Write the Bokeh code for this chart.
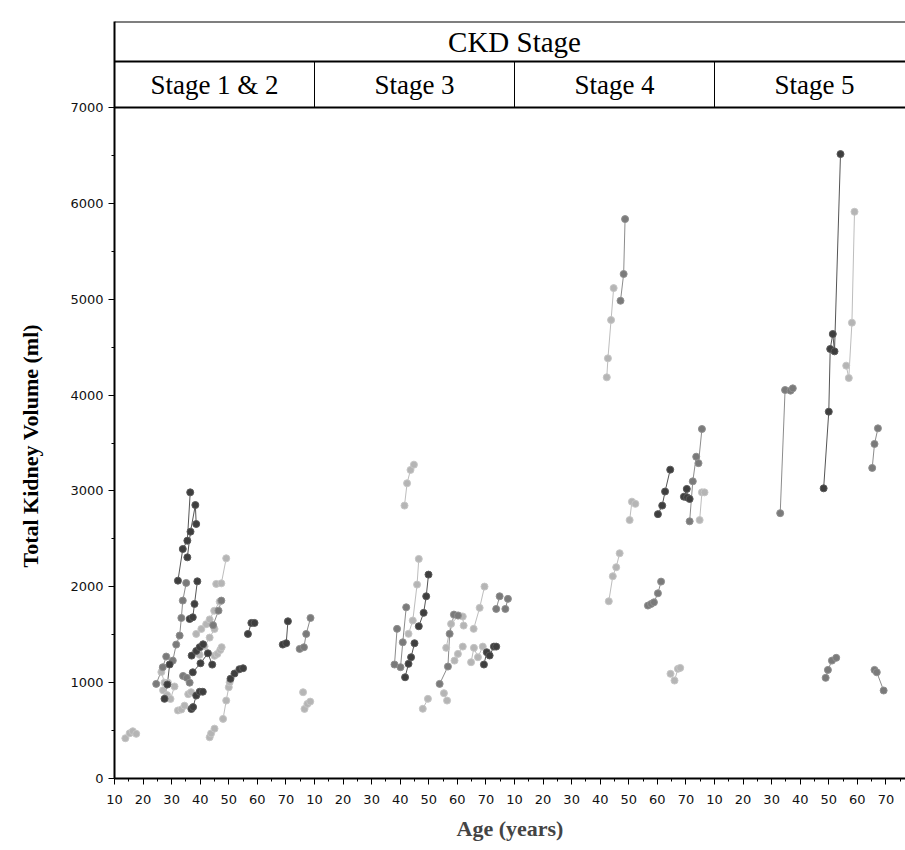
import math
from bokeh.plotting import figure
from bokeh.layouts import row
from bokeh.models import Range1d, FixedTicker, Span, Label, ColumnDataSource
from bokeh.embed import file_html
from bokeh.resources import INLINE

# ---------------- data ----------------
header_title = "CKD Stage"
panel_names = ["Stage 1 & 2", "Stage 3", "Stage 4", "Stage 5"]
y_title = "Total Kidney Volume  (ml)"
x_title = "Age (years)"
age_labels = [10, 20, 30, 40, 50, 60, 70]
age_minor = [15, 25, 35, 45, 55, 65, 75]
tkv_ticks = [0, 1000, 2000, 3000, 4000, 5000, 6000, 7000]
tkv_minor = [500, 1500, 2500, 3500, 4500, 5500, 6500]

# tone: 0 = dark, 1 = medium, 2 = light
stage12_age = [
    [13.8, 15.3, 16.4, 17.6], [32.2, 33.9, 35.5, 36.5], [35.5, 36.6, 38.3, 38.6],
    [30.4, 31.6, 32.8, 33.4, 33.9, 35.1], [36.3, 37.4, 38.0, 39.0], [24.6, 26.9, 28.1],
    [27.5, 28.5, 29.3], [26.4, 27.5, 28.7], [27.0, 28.4, 29.6, 31.0], [32.2, 33.4, 34.5],
    [34.0, 35.3, 36.3], [36.9, 37.5, 38.6, 39.8, 40.9], [37.0, 38.6, 39.8, 41.0],
    [37.4, 40.1, 42.7, 44.2], [38.6, 40.4, 42.1, 43.3, 44.9, 46.8], [39.8, 41.5, 43.3, 45.0],
    [45.0, 46.0, 47.0, 47.5], [45.6, 47.4, 49.1], [44.5, 46.4, 47.4], [43.3, 43.8, 45.0],
    [48.0, 49.1, 50.0, 50.3], [50.6, 52.0, 53.7, 55.0], [56.7, 57.9, 59.0],
    [68.9, 70.1, 70.7], [74.8, 76.3, 77.1, 78.6], [76.0], [76.5, 77.5, 78.5], [35.8, 36.8],
]
stage12_tkv = [
    [420, 472, 493, 466], [2064, 2394, 2481, 2985], [2307, 2575, 2853, 2655],
    [1230, 1397, 1491, 1675, 1856, 2040], [1664, 1682, 1821, 2057], [987, 1161, 1272],
    [831, 980, 1190], [1110, 1000, 1000], [920, 870, 830, 960], [710, 720, 760],
    [1070, 1050, 1000], [725, 745, 865, 905, 905], [1282, 1330, 1370, 1400],
    [1108, 1202, 1306, 1188], [1508, 1560, 1610, 1660, 1750, 1845], [1290, 1380, 1470, 1560],
    [1280, 1300, 1340, 1370], [2030, 2036, 2297], [1600, 1751, 1856], [430, 470, 520],
    [622, 813, 952, 1004], [1040, 1095, 1140, 1150], [1508, 1623, 1623],
    [1397, 1411, 1640], [1352, 1369, 1508, 1675], [900], [726, 778, 802], [880, 900],
]
stage12_tone = [2, 0, 0, 1, 0, 1, 0, 2, 2, 2, 1, 0, 0, 0, 2, 2, 2, 2, 1, 2, 2, 0, 0, 0, 1, 2, 2, 2]

stage3_age = [
    [41.5, 42.4, 43.6, 44.8], [42.9, 44.4, 45.9, 46.5], [46.5, 48.2, 49.1, 49.9],
    [38.0, 38.9], [40.1, 40.9, 42.1], [41.7, 42.9, 43.8, 45.0], [47.9, 49.7],
    [53.8, 56.7, 57.3, 58.8, 60.2], [56.1, 57.8, 60.5, 61.9, 62.2], [55.3, 56.4],
    [59.0, 60.2, 61.9], [64.8, 65.8, 67.2, 68.9], [65.7, 67.8, 69.5],
    [69.3, 70.3, 71.3, 72.8, 73.6], [73.6, 74.8], [76.8, 77.7],
]
stage3_tkv = [
    [2847, 3080, 3219, 3274], [1509, 1648, 2023, 2291], [1588, 1728, 1901, 2127],
    [1189, 1561], [1161, 1421, 1786], [1056, 1196, 1265, 1411], [727, 831],
    [987, 1168, 1509, 1710, 1700], [1363, 1613, 1700, 1690, 1595], [890, 813],
    [1230, 1300, 1376], [1213, 1363, 1265, 1376], [1561, 1780, 2002],
    [1189, 1317, 1283, 1376, 1376], [1769, 1901], [1769, 1874],
]
stage3_tone = [2, 2, 0, 1, 1, 0, 2, 1, 2, 2, 2, 2, 2, 0, 1, 1]

stage4_age = [
    [47.1, 48.2, 48.7], [42.3, 42.7, 43.8, 44.7], [71.3, 72.4, 73.6, 74.4, 75.6],
    [69.3, 70.3, 70.4, 71.3], [74.8, 75.6, 76.5], [60.2, 61.7, 62.7, 64.5],
    [50.3, 51.1, 52.3], [43.0, 44.4, 45.6, 46.8], [56.7, 57.8, 58.8, 60.2, 61.3],
    [64.6, 66.0, 67.2, 68.0],
]
stage4_tkv = [
    [4984, 5263, 5836], [4185, 4383, 4783, 5116], [2683, 3100, 3357, 3290, 3646],
    [2940, 3021, 2933, 2916], [2696, 2985, 2985], [2758, 2847, 2994, 3222],
    [2696, 2888, 2865], [1849, 2110, 2204, 2350], [1804, 1821, 1838, 1932, 2054],
    [1092, 1022, 1144, 1154],
]
stage4_tone = [1, 2, 1, 0, 2, 0, 2, 2, 1, 2]

stage5_age = [
    [48.2, 50.0, 50.5, 51.4, 52.0, 54.1], [56.1, 57.0, 58.1, 59.0],
    [33.0, 34.7, 36.6, 37.4], [65.2, 66.0, 67.2], [48.9, 49.7, 51.1, 52.6],
    [66.0, 66.8, 69.2],
]
stage5_tkv = [
    [3027, 3827, 4481, 4637, 4456, 6514], [4307, 4178, 4755, 5912],
    [2768, 4053, 4046, 4070], [3240, 3490, 3653], [1050, 1133, 1230, 1259],
    [1133, 1108, 918],
]
stage5_tone = [0, 2, 1, 1, 1, 1]

stages = [
    (stage12_age, stage12_tkv, stage12_tone),
    (stage3_age, stage3_tkv, stage3_tone),
    (stage4_age, stage4_tkv, stage4_tone),
    (stage5_age, stage5_tkv, stage5_tone),
]

# ---------------- layout ----------------
W, H = 905, 850
TW = 52                      # strip holding the vertical axis title
B_LEFT, B_TOP, B_BOTTOM = 114, 21, 72
AGE0, AGE1 = 10, 80
SPAN = AGE1 - AGE0
PANEL_PX = 200.0
frame_w = W - B_LEFT
frame_h = H - B_TOP - B_BOTTOM
data_px = 671.0
ymax_data = 7000
y_top = ymax_data * frame_h / data_px
stage_row_top = ymax_data + 46 * ymax_data / data_px
x_end = frame_w * SPAN / PANEL_PX

fill_cols = ["#3e3e3e", "#7a7a7a", "#b5b5b5"]
edge_cols = ["#5a5a5a", "#909090", "#c6c6c6"]
line_cols = ["#555555", "#8c8c8c", "#bdbdbd"]

yr = Range1d(0, y_top)

# narrow strip with the y-axis title
t = figure(width=TW, height=H, x_range=Range1d(0, TW), y_range=yr,
           output_backend="svg", toolbar_location=None,
           x_axis_location=None, y_axis_location=None,
           min_border_left=0, min_border_right=0, min_border_top=B_TOP,
           min_border_bottom=B_BOTTOM)
t.outline_line_color = None
t.xgrid.visible = False
t.ygrid.visible = False
t.add_layout(Label(x=30, y=ymax_data / 2, text=y_title, angle=math.pi / 2,
                   text_align="center", text_baseline="middle",
                   text_font="Liberation Serif", text_font_style="bold",
                   text_font_size="22px", text_color="black"))

p = figure(width=W - TW, height=H, x_range=Range1d(0, x_end), y_range=yr,
           output_backend="svg", toolbar_location=None,
           min_border_left=B_LEFT - TW, min_border_right=0, min_border_top=B_TOP,
           min_border_bottom=B_BOTTOM)
p.outline_line_color = None
p.xgrid.visible = False
p.ygrid.visible = False

xs, ys, lc = [], [], []
px, py, pf, pe = [], [], [], []
for k, (ages, tkvs, tones) in enumerate(stages):
    order = sorted(range(len(tones)), key=lambda i: -tones[i])
    for i in order:
        xx = [k * SPAN + a - AGE0 for a in ages[i]]
        xs.append(xx)
        ys.append(list(tkvs[i]))
        lc.append(line_cols[tones[i]])
        px.extend(xx)
        py.extend(tkvs[i])
        pf.extend([fill_cols[tones[i]]] * len(xx))
        pe.extend([edge_cols[tones[i]]] * len(xx))

p.multi_line(xs=xs, ys=ys, line_color=lc, line_width=1)
pts = ColumnDataSource(dict(x=px, y=py, f=pf, e=pe))
p.scatter("x", "y", source=pts, size=7, fill_color="f", line_color="e", line_width=1)

# axes
major = [k * SPAN + a - AGE0 for k in range(4) for a in age_labels]
minor = [k * SPAN + a - AGE0 for k in range(4) for a in age_minor]
p.xaxis.ticker = FixedTicker(ticks=major, minor_ticks=minor)
p.xaxis.major_label_overrides = {k * SPAN + a - AGE0: str(a) for k in range(4) for a in age_labels}
p.yaxis.ticker = FixedTicker(ticks=tkv_ticks, minor_ticks=tkv_minor)

for ax in (p.xaxis[0], p.yaxis[0]):
    ax.axis_line_width = 2
    ax.axis_line_color = "black"
    ax.major_tick_out = 6
    ax.major_tick_in = 0
    ax.minor_tick_out = 3
    ax.minor_tick_in = 0
    ax.major_tick_line_color = "black"
    ax.minor_tick_line_color = "black"
    ax.major_label_text_font = "DejaVu Sans"
    ax.major_label_text_font_size = "13px"
    ax.major_label_text_color = "#111111"

p.yaxis.major_label_standoff = 5
p.xaxis.major_label_standoff = 10
p.xaxis.axis_label = x_title
p.xaxis.axis_label_text_font = "Liberation Serif"
p.xaxis.axis_label_text_font_style = "bold"
p.xaxis.axis_label_text_font_size = "22px"
p.xaxis.axis_label_standoff = 9

# header (CKD Stage / Stage panels)
for loc in (ymax_data, stage_row_top, y_top):
    p.add_layout(Span(location=loc, dimension="width", line_color="black", line_width=2))
p.segment(x0=[k * SPAN for k in range(1, 4)], y0=[ymax_data] * 3,
          x1=[k * SPAN for k in range(1, 4)], y1=[stage_row_top] * 3,
          line_color="black", line_width=1)
p.add_layout(Label(x=2 * SPAN, y=(stage_row_top + y_top) / 2, text=header_title,
                   text_align="center", text_baseline="middle",
                   text_font="Liberation Serif", text_font_size="29px", text_color="black"))
for k, name in enumerate(panel_names):
    p.add_layout(Label(x=k * SPAN + SPAN / 2, y=(ymax_data + stage_row_top) / 2, text=name,
                       text_align="center", text_baseline="middle",
                       text_font="Liberation Serif", text_font_size="27px", text_color="black"))

layout = row(t, p)
open("out.html", "w").write(file_html(layout, INLINE, title="TKV by CKD stage"))
